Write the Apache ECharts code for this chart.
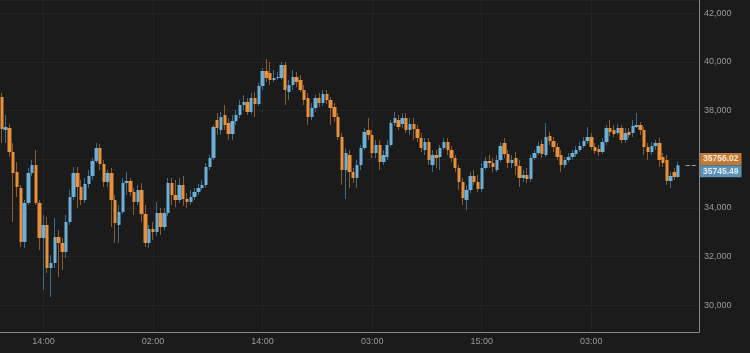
<!DOCTYPE html>
<html><head><meta charset="utf-8">
<script src="https://cdn.jsdelivr.net/npm/echarts@6/dist/echarts.min.js"></script>
<style>html,body{margin:0;padding:0;background:#1b1b1b}#c{width:750px;height:353px}</style>
</head><body><div id="c"></div>
<script>
const candleCount = 185;
const tickIndex = [11, 40, 69, 98, 127, 156];
const tickText = ['14:00', '02:00', '14:00', '03:00', '15:00', '03:00'];
const opens = [
38557,37200,37282,36295,35473,34815,32594,34198,35432,35760,
34198,32758,33292,31524,31730,32799,32553,32182,33416,34444,
35432,34856,34321,34979,35308,35925,36460,35801,35062,35432,
34321,33292,33828,35021,35103,34650,34239,34732,33745,32553,
33128,33005,33787,33210,33787,35021,34526,34321,34938,34362,
34239,34444,34650,34815,34938,35678,36048,37611,37200,37817,
37488,37035,37570,37817,38228,38352,37941,38516,38269,39010,
39627,39545,39257,39339,39339,39873,38763,39051,39380,39257,
38845,38516,37735,38105,38516,38311,38681,38434,38146,37735,
36912,35555,36171,35473,35226,35760,36460,37200,36994,36254,
36583,35884,36089,36583,37488,37611,37447,37694,37200,37447,
37241,36871,36377,36706,35760,36171,36089,36460,36706,36377,
36048,35637,35062,34321,34732,35308,35062,34774,35637,35925,
35843,35555,35966,36666,36213,35843,36048,35719,35226,35350,
35185,36048,36254,36624,36171,36953,36748,36501,36171,35760,
35966,36089,36213,36377,36542,36748,36912,36501,36418,36295,
36706,37282,37200,37076,37282,36789,37118,37076,37323,37406,
37200,36501,36295,36542,36666,36089,35966,35103,35473,35267];
const closes = [
37241,37323,36295,35432,34856,32594,34198,35432,35760,34198,
32758,33292,31524,31730,32799,32553,32182,33416,34444,35432,
34856,34321,34979,35308,35925,36460,35801,35062,35432,34321,
33375,33828,35021,35103,34650,34239,34732,33745,32553,33128,
33005,33787,33210,33787,35021,34526,34321,34938,34362,34239,
34444,34650,34815,34938,35678,36048,37323,37282,37735,37406,
37035,37570,37817,38228,38352,37941,38516,38269,39010,39627,
39339,39257,39339,39380,39873,38845,39051,39380,39175,38845,
38434,37735,38105,38516,38311,38681,38434,38105,37735,36912,
35555,36254,35473,35226,35760,36460,37118,36994,36254,36583,
35884,36171,36583,37488,37694,37323,37694,37200,37447,37241,
36871,36460,36706,35966,36171,36048,36460,36706,36377,36048,
35637,35062,34403,34732,35308,35062,34774,35637,35925,35843,
35678,35966,36542,36213,35843,35966,35719,35226,35350,35185,
36048,36254,36542,36213,36912,36748,36501,36089,35760,35966,
36089,36254,36377,36542,36748,36912,36501,36336,36295,36706,
37282,37118,37035,37282,36789,37076,36994,37365,37406,37200,
36501,36295,36542,36666,35966,35843,35103,35308,35267,35745.49];
const lows = [
36666,36666,36089,33416,34444,32388,32347,34115,35308,34115,
32264,30619,31319,30331,31524,31154,31442,31935,33292,34321,
33992,34115,34198,34815,35144,35843,35555,34856,34856,33210,
32553,32553,33745,34526,34485,33704,34115,33416,32388,32347,
32676,32840,32881,33087,33663,34115,34033,34198,34074,33992,
34115,34321,34526,34732,34815,35555,35966,37006,37006,37200,
36789,36789,37406,37694,38023,37817,37858,37735,38187,38845,
39175,39051,39175,39257,39257,38228,38434,38845,38969,38763,
38228,37406,37611,37941,38146,38187,38269,37406,37529,36789,
34938,34362,34815,35021,34815,35555,36377,36789,36048,36048,
35555,35760,35966,36501,37365,37200,37282,37076,36994,36789,
36706,36295,36171,35760,35473,35637,35555,36377,36171,35884,
35473,34732,34115,33910,34609,34938,34650,34650,35555,35637,
35473,35473,35884,36048,35637,35637,35350,34856,35062,35021,
35062,35966,36171,36048,36089,36583,36295,35966,35473,35637,
35884,35966,36089,36295,36460,36624,36377,36213,36130,36213,
36583,36953,36912,36994,36666,36666,36871,36912,37282,36994,
36171,35966,36171,36377,35678,35678,34938,34815,35144,35226];
const highs = [
38722,37817,37446,36666,35884,34938,34321,35637,35966,36377,
34321,33704,33622,32058,33581,33087,32758,33704,34732,35678,
35678,35144,35226,35555,36048,36666,36624,35966,35555,35637,
34526,34115,35226,35473,35226,34815,34938,35021,34115,33292,
33416,34239,33992,33992,35226,35226,35144,35226,35308,34609,
34732,34815,34979,35144,35843,36171,37406,37899,37941,38228,
37694,37817,38023,38434,38640,38516,38722,38763,39134,39750,
40120,39997,39668,39586,39997,39997,39257,39668,39586,39463,
39051,38722,38311,38640,38722,38845,38845,38557,38311,37899,
37076,36460,36377,35637,35966,36583,37282,37694,37200,36789,
36789,36377,36789,37611,37941,37817,37899,37899,37694,37694,
37406,37076,36871,36871,36377,36377,36583,36871,36871,36542,
36171,35760,35226,34938,35473,35555,35350,35843,36089,36171,
36048,36171,36706,36871,36377,36171,36295,35966,35555,35637,
36171,36377,36706,36789,37488,37118,36912,36666,36377,36089,
36254,36377,36542,36706,36912,37323,37076,36666,36583,36871,
37406,37611,37406,37447,37406,37282,37282,37611,37899,37529,
37323,36666,36706,36789,36871,36254,36171,35473,35637,35884];
const priceTags = [35756.02, 35745.49];

const UP = '#6cb0da', DOWN = '#e8913a';
const UP_WICK = '#3e6c88', DOWN_WICK = '#8c5b29';
const FONT = 'Liberation Sans, Arial, Helvetica, sans-serif';

const categories = Array.from({length: candleCount}, (_, i) => String(i));
const fullData = opens.map((o, i) => [o, closes[i], lows[i], highs[i]]);
const bodyData = opens.map((o, i) => [o, closes[i], Math.min(o, closes[i]), Math.max(o, closes[i])]);

const chart = echarts.init(document.getElementById('c'), null, {renderer: 'canvas'});
const isTick = (i) => tickIndex.indexOf(i) >= 0;

function tag(k, color, dy) {
  return [
    {coord: [181, priceTags[k]],
     lineStyle: {color: color, type: 'dashed', width: 1, opacity: 0.8},
     label: {show: true, position: 'end', distance: 3, offset: [0, dy],
       formatter: () => priceTags[k].toFixed(2),
       color: '#ffffff', backgroundColor: color, padding: [2, 3, 1, 3],
       fontSize: 8.5, fontWeight: 'bold', fontFamily: FONT}},
    {coord: [184, priceTags[k]]}
  ];
}

chart.setOption({
  backgroundColor: '#1b1b1b',
  animation: false,
  grid: {left: 0, right: 51, top: 0, bottom: 21, containLabel: false},
  xAxis: {
    type: 'category', data: categories, boundaryGap: true,
    axisLine: {show: true, lineStyle: {color: '#8a8a8a', width: 1}},
    axisTick: {show: false},
    axisLabel: {color: '#9a9a9a', fontSize: 9, fontFamily: FONT, margin: 5,
      interval: (i) => isTick(i),
      formatter: (v, i) => { const k = tickIndex.indexOf(i); return k >= 0 ? tickText[k] : ''; }},
    splitLine: {show: true, alignWithLabel: true, interval: (i) => isTick(i),
      lineStyle: {color: '#242424', width: 1}}
  },
  yAxis: {
    type: 'value', position: 'right', scale: true, min: 28890, max: 42547, splitNumber: 7,
    axisLine: {show: true, lineStyle: {color: '#8a8a8a', width: 1}},
    axisTick: {show: false},
    axisLabel: {color: '#9a9a9a', fontSize: 9, fontFamily: FONT, margin: 5,
      showMinLabel: false, showMaxLabel: false,
      formatter: (v) => Number(v).toLocaleString('en-US')},
    splitLine: {show: true, lineStyle: {color: '#242424', width: 1}}
  },
  series: [
    {
      type: 'candlestick', name: 'wick', data: fullData, barWidth: 1, silent: true,
      itemStyle: {color: UP_WICK, color0: DOWN_WICK, borderColor: UP_WICK, borderColor0: DOWN_WICK, borderWidth: 1}
    },
    {
      type: 'candlestick', name: 'body', data: bodyData, barWidth: 3.9, silent: true,
      itemStyle: {color: UP, color0: DOWN, borderColor: UP, borderColor0: DOWN, borderWidth: 0},
      markLine: {symbol: ['none', 'none'], silent: true, animation: false,
        data: [tag(0, DOWN, -6), tag(1, UP, 6)]}
    }
  ]
});
</script>
</body></html>
